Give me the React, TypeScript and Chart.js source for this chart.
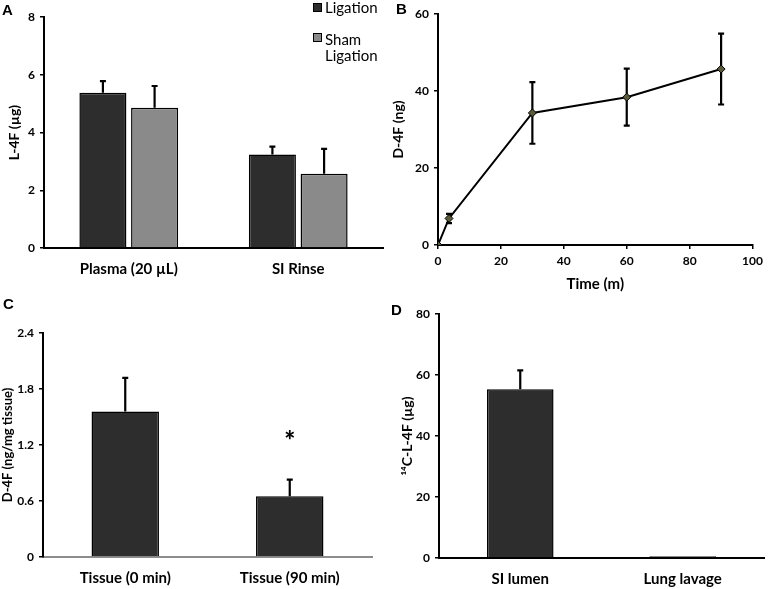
import React, { useEffect, useRef } from "react";
import { Chart, registerables } from "chart.js";

Chart.register(...registerables);

const FONT = "Lato, 'Open Sans', sans-serif";

// Panel A
const aCategories = ["Plasma (20 µL)", "SI Rinse"];
const aLigation = [5.38, 3.24];
const aLigationErr = [0.4, 0.27];
const aSham = [4.86, 2.57];
const aShamErr = [0.75, 0.86];

// Panel B
const bTimes = [0, 3.5, 30, 60, 90];
const bValues = [0, 6.9, 34.3, 38.4, 45.7];
const bErr = [0, 1.2, 8.0, 7.4, 9.2];

// Panel C
const cCategories = ["Tissue (0 min)", "Tissue (90 min)"];
const cValues = [1.56, 0.65];
const cErr = [0.36, 0.18];
const cStarValue = 1.3;

// Panel D
const dCategories = ["SI lumen", "Lung lavage"];
const dValues = [55.3, 0.6];
const dErr = [6.2, 0];

const DARK = "#2d2d2d";
const GREY = "#8a8a8a";

const errorBarPlugin = {
  id: "errorBars",
  draw(chart: any) {
    const ctx = chart.ctx;
    chart.data.datasets.forEach((ds: any, i: number) => {
      const errs = ds.errors;
      if (!errs) return;
      const meta = chart.getDatasetMeta(i);
      const yScale = chart.scales[meta.yAxisID];
      meta.data.forEach((el: any, j: number) => {
        const e = errs[j];
        if (!e) return;
        const raw = ds.data[j];
        const v = typeof raw === "object" ? raw.y : raw;
        const x = el.x;
        const yTop = yScale.getPixelForValue(v + e);
        const yBot = ds.errorBoth ? yScale.getPixelForValue(v - e) : yScale.getPixelForValue(v);
        const cw = ds.capWidth || 3;
        ctx.save();
        ctx.strokeStyle = "#000";
        ctx.lineWidth = 2.2;
        ctx.beginPath();
        ctx.moveTo(x, yTop);
        ctx.lineTo(x, yBot);
        ctx.moveTo(x - cw, yTop);
        ctx.lineTo(x + cw, yTop);
        if (ds.errorBoth) {
          ctx.moveTo(x - cw, yBot);
          ctx.lineTo(x + cw, yBot);
        }
        ctx.stroke();
        ctx.restore();
      });
    });
  },
  afterDatasetsDraw(chart: any) {
    if (chart.options.plugins.errorBarsBefore) return;
    (errorBarPlugin as any).draw(chart);
  },
  beforeDatasetsDraw(chart: any) {
    if (!chart.options.plugins.errorBarsBefore) return;
    (errorBarPlugin as any).draw(chart);
  },
};

const starPlugin = {
  id: "star",
  afterDatasetsDraw(chart: any) {
    const opt = chart.options.plugins.starMark;
    if (!opt) return;
    const meta = chart.getDatasetMeta(0);
    const el = meta.data[opt.index];
    const y = chart.scales.y.getPixelForValue(opt.value);
    const ctx = chart.ctx;
    ctx.save();
    ctx.fillStyle = "#000";
    ctx.font = "900 26px " + FONT;
    ctx.textAlign = "center";
    ctx.textBaseline = "middle";
    ctx.fillText("*", el.x, y + 6);
    ctx.restore();
  },
};

function yAxis(
  min: number,
  max: number,
  step: number,
  title: string,
  width: number,
  fmt?: (v: any) => string,
  titleSize = 14,
  titlePad = 6
) {
  return {
    type: "linear",
    min,
    max,
    ticks: {
      stepSize: step,
      color: "#000",
      font: { family: FONT, size: 12, weight: "bold" },
      padding: 5,
      ...(fmt ? { callback: fmt } : {}),
    },
    grid: { display: true, drawOnChartArea: false, drawTicks: true, tickLength: 4, color: "#000", lineWidth: 1.5 },
    border: { display: true, color: "#000", width: 2 },
    title: {
      display: true,
      text: title,
      color: "#000",
      font: { family: FONT, size: titleSize, weight: "bold" },
      padding: { top: titlePad, bottom: 0 },
    },
    afterFit: (s: any) => {
      s.width = width;
    },
  };
}

function catAxis(height: number, borderColor = "#000") {
  return {
    type: "category",
    offset: true,
    ticks: { color: "#000", font: { family: FONT, size: 15, weight: "bold" }, padding: 12 },
    grid: { display: false, drawTicks: false },
    border: { display: true, color: borderColor, width: 2 },
    afterFit: (s: any) => {
      s.height = height;
    },
  };
}

function Panel({ left, top, width, height, config }: any) {
  const ref = useRef<HTMLCanvasElement>(null);
  useEffect(() => {
    const chart = new Chart(ref.current as HTMLCanvasElement, config());
    return () => chart.destroy();
  }, []);
  return (
    <div style={{ position: "absolute", left, top, width, height }}>
      <canvas ref={ref} width={width} height={height} style={{ width, height, display: "block" }} />
    </div>
  );
}

const baseOptions = (padding: any) => ({
  responsive: false,
  animation: false,
  maintainAspectRatio: false,
  layout: { padding },
});

const configA = () => ({
  type: "bar",
  data: {
    labels: aCategories,
    datasets: [
      {
        label: "Ligation",
        data: aLigation,
        errors: aLigationErr,
        capWidth: 3,
        backgroundColor: DARK,
        borderColor: "#000",
        borderWidth: 1.5,
        categoryPercentage: 0.61,
        barPercentage: 0.91,
      },
      {
        label: "Sham Ligation",
        data: aSham,
        errors: aShamErr,
        capWidth: 3,
        backgroundColor: GREY,
        borderColor: "#000",
        borderWidth: 1.5,
        categoryPercentage: 0.61,
        barPercentage: 0.91,
      },
    ],
  },
  options: {
    ...baseOptions({ top: 17, right: 1, left: 0, bottom: 0 }),
    plugins: { legend: { display: false }, tooltip: { enabled: false } },
    scales: {
      x: catAxis(47),
      y: yAxis(0, 8, 2, "L-4F (µg)", 44),
    },
  },
  plugins: [errorBarPlugin],
});

const configB = () => ({
  type: "scatter",
  data: {
    datasets: [
      {
        data: bTimes.map((t, i) => ({ x: t, y: bValues[i] })),
        errors: bErr,
        errorBoth: true,
        capWidth: 3,
        showLine: true,
        borderColor: "#000",
        borderWidth: 2,
        pointStyle: "rectRot",
        pointRadius: 4,
        pointBackgroundColor: "#5b5a3c",
        pointBorderColor: "#000",
        pointBorderWidth: 1,
      },
    ],
  },
  options: {
    ...baseOptions({ top: 14, right: 12, left: 0, bottom: 0 }),
    plugins: { legend: { display: false }, tooltip: { enabled: false }, errorBarsBefore: true },
    scales: {
      x: {
        type: "linear",
        min: 0,
        max: 100,
        ticks: { stepSize: 20, color: "#000", font: { family: FONT, size: 12, weight: "bold" }, padding: 5 },
        grid: { display: true, drawOnChartArea: false, drawTicks: true, tickLength: 4, color: "#000", lineWidth: 1.5 },
        border: { display: true, color: "#000", width: 2 },
        title: {
          display: true,
          text: "Time (m)",
          color: "#000",
          font: { family: FONT, size: 15, weight: "bold" },
          padding: { top: 2, bottom: 2 },
        },
        afterFit: (s: any) => {
          s.height = 50;
        },
      },
      y: yAxis(0, 60, 20, "D-4F (ng)", 54),
    },
  },
  plugins: [errorBarPlugin],
});

const configC = () => ({
  type: "bar",
  data: {
    labels: cCategories,
    datasets: [
      {
        data: cValues,
        errors: cErr,
        capWidth: 3,
        backgroundColor: DARK,
        borderColor: "#000",
        borderWidth: 1.5,
        categoryPercentage: 1,
        barPercentage: 0.41,
      },
    ],
  },
  options: {
    ...baseOptions({ top: 38, right: 12, left: 0, bottom: 0 }),
    plugins: { legend: { display: false }, tooltip: { enabled: false }, starMark: { index: 1, value: cStarValue } },
    scales: {
      x: catAxis(32, "#8c8c8c"),
      y: yAxis(
        0,
        2.4,
        0.6,
        "D-4F (ng/mg tissue)",
        43,
        (v: any) => (Number(v) === 0 ? "0" : Number(v).toFixed(1)),
        13,
        0
      ),
    },
  },
  plugins: [errorBarPlugin, starPlugin],
});

const configD = () => ({
  type: "bar",
  data: {
    labels: dCategories,
    datasets: [
      {
        data: dValues,
        errors: dErr,
        capWidth: 3,
        backgroundColor: DARK,
        borderColor: "#000",
        borderWidth: 1.5,
        categoryPercentage: 1,
        barPercentage: 0.41,
      },
    ],
  },
  options: {
    ...baseOptions({ top: 19, right: 4, left: 0, bottom: 0 }),
    plugins: { legend: { display: false }, tooltip: { enabled: false } },
    scales: {
      x: catAxis(31),
      y: yAxis(0, 80, 20, "¹⁴C-L-4F (µg)", 55, undefined, 14, 15),
    },
  },
  plugins: [errorBarPlugin],
});

const letterStyle: any = {
  position: "absolute",
  fontFamily: "'Liberation Sans', Arial, sans-serif",
  fontWeight: "bold",
  fontSize: 15,
  lineHeight: "15px",
  color: "#000",
};

const legendText: any = {
  position: "absolute",
  fontFamily: FONT,
  fontSize: 15,
  lineHeight: "16px",
  color: "#000",
};

const sq = (bg: string): any => ({
  position: "absolute",
  width: 7,
  height: 7,
  background: bg,
  border: "1.5px solid #000",
});

export default function App() {
  return (
    <div style={{ position: "absolute", left: 0, top: 0, width: 768, height: 589, background: "#fff", overflow: "hidden" }}>
      <Panel left={0} top={0} width={384} height={295} config={configA} />
      <Panel left={384} top={0} width={384} height={295} config={configB} />
      <Panel left={0} top={295} width={384} height={294} config={configC} />
      <Panel left={384} top={295} width={384} height={294} config={configD} />

      <div style={{ ...letterStyle, left: 2, top: 2 }}>A</div>
      <div style={{ ...letterStyle, left: 396, top: 1 }}>B</div>
      <div style={{ ...letterStyle, left: 3, top: 296 }}>C</div>
      <div style={{ ...letterStyle, left: 391, top: 302 }}>D</div>

      <div style={{ ...sq(DARK), left: 313, top: 3 }} />
      <div style={{ ...legendText, left: 325, top: -1 }}>Ligation</div>
      <div style={{ ...sq(GREY), left: 313, top: 33 }} />
      <div style={{ ...legendText, left: 325, top: 31 }}>
        Sham
        <br />
        Ligation
      </div>
    </div>
  );
}
